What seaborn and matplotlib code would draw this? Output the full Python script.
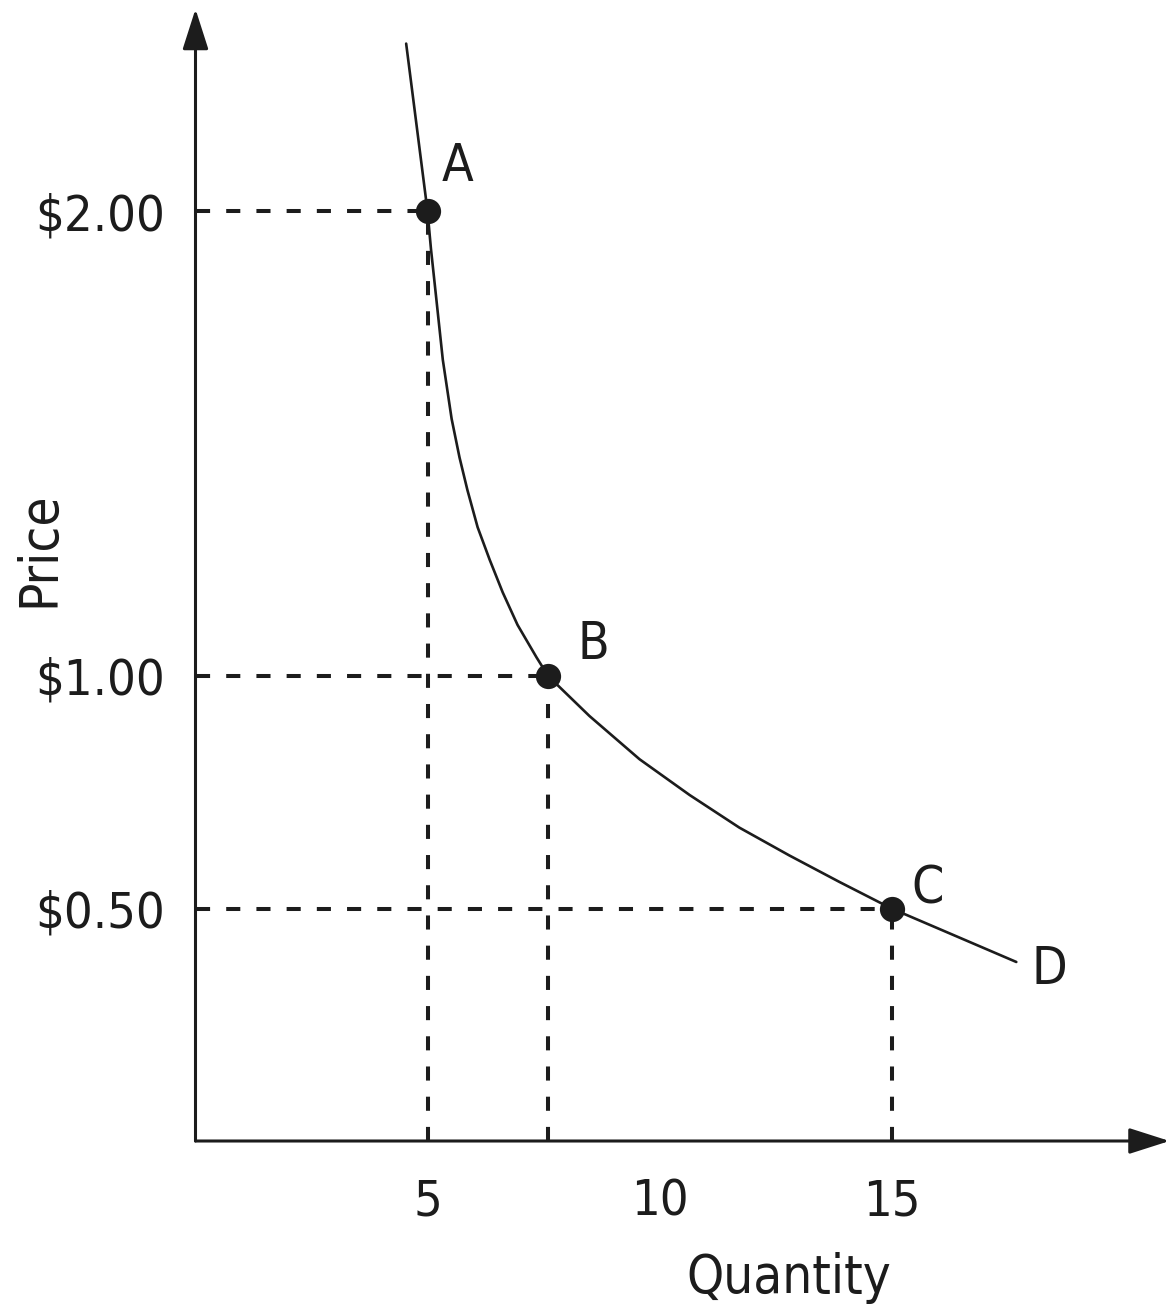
import pandas as pd
import matplotlib.pyplot as plt
import seaborn as sns
from matplotlib import font_manager as fm
from matplotlib.textpath import TextPath

# =========================
# Data
# =========================
demand_qty = [4.54, 5.00, 5.075, 5.19, 5.33, 5.52, 5.69, 5.86, 6.08, 6.34,
              6.62, 6.94, 7.35, 7.60, 8.49, 9.57, 10.65, 11.72, 12.80,
              13.88, 15.00, 16.03, 17.69]
demand_price = [2.36, 2.00, 1.918, 1.811, 1.68, 1.553, 1.47, 1.40, 1.32, 1.25,
                1.18, 1.11, 1.04, 1.00, 0.914, 0.821, 0.744, 0.674, 0.614,
                0.557, 0.50, 0.456, 0.385]

point_names = ['A', 'B', 'C']
point_qty = [5.0, 7.6, 15.0]
point_price = [2.00, 1.00, 0.50]

curve_name = 'D'

price_ticks = [0.50, 1.00, 2.00]
price_labels = ['$0.50', '$1.00', '$2.00']
qty_ticks = [5, 10, 15]
qty_labels = ['5', '10', '15']

# =========================
# Style: look for a narrow sans font, else plain DejaVu
# =========================
sns.set_style('white')

family, stretch = 'DejaVu Sans', 'normal'
for want in ['Liberation Sans Narrow', 'DejaVu Sans', 'Noto Sans', 'Roboto', 'Open Sans']:
    found = [f for f in fm.fontManager.ttflist
             if (f.name == want or f.name.startswith(want + ' '))
             and f.style == 'normal'
             and (f.stretch in ('condensed', 'semi-condensed')
                  or 'Narrow' in f.name or 'Condensed' in f.name)]
    if found:
        family, stretch = found[0].name, found[0].stretch
        break

plt.rcParams['font.family'] = [family, 'DejaVu Sans']
plt.rcParams['font.stretch'] = stretch
ink = '#1c1c1c'

# keep "$2.00" about as wide as in the picture (123 px)
prop = fm.FontProperties(family=[family, 'DejaVu Sans'], stretch=stretch)
w = TextPath((0, 0), '$2.00', size=43, prop=prop).get_extents().width
scale = min(1.0, (123 * 0.72) / w)
tick_fs, label_fs, point_fs = 43 * scale, 45 * scale, 44 * scale

fig = plt.figure(figsize=(11.7, 13.08), dpi=100)
ax = fig.add_axes([195.5 / 1170, (1308 - 1141) / 1308, 974 / 1170, 1132 / 1308])
x_max, y_max = 974 / 46.4, 1132 / 465
ax.set_xlim(0, x_max)
ax.set_ylim(0, y_max)

# =========================
# Demand curve, guide lines, points
# =========================
curve = pd.DataFrame({'qty': demand_qty, 'price': demand_price})
sns.lineplot(data=curve, x='qty', y='price', ax=ax, sort=False,
             estimator=None, color=ink, lw=1.9)

dash = (0, (3.5, 4.0))
ax.hlines(point_price, 0, point_qty, colors=ink, linestyles=dash, lw=2.9)
ax.vlines(point_qty, 0, point_price, colors=ink, linestyles=dash, lw=2.9)

pts = pd.DataFrame({'qty': point_qty, 'price': point_price, 'name': point_names})
sns.scatterplot(data=pts, x='qty', y='price', ax=ax, s=330, color=ink,
                edgecolor=ink, linewidth=0, zorder=5)

label_offsets = {'A': (21.6, 21.5), 'B': (32.4, 12.5), 'C': (25.9, 3.5)}
for name, q, p in zip(point_names, point_qty, point_price):
    ax.annotate(name, (q, p), xytext=label_offsets[name], textcoords='offset points',
                ha='center', va='baseline', fontsize=point_fs, color=ink)
ax.annotate(curve_name, (demand_qty[-1], demand_price[-1]), xytext=(23.8, -15.8),
            textcoords='offset points', ha='center', va='baseline',
            fontsize=point_fs, color=ink)

# =========================
# Axes with arrows
# =========================
for spine in ax.spines.values():
    spine.set_visible(False)

arrow = dict(arrowstyle='-|>,head_length=1.0,head_width=0.32', color=ink,
             lw=2.2, shrinkA=0, shrinkB=0, mutation_scale=25)
ax.annotate('', xy=(x_max, 0), xytext=(0, 0), arrowprops=arrow, annotation_clip=False)
ax.annotate('', xy=(0, y_max), xytext=(0, 0), arrowprops=arrow, annotation_clip=False)

ax.set_xticks(qty_ticks, qty_labels)
ax.set_yticks(price_ticks, price_labels)
ax.tick_params(direction='out', length=14, width=2.2, color=ink,
               labelsize=tick_fs, labelcolor=ink)
ax.tick_params(axis='y', pad=8)
ax.tick_params(axis='x', pad=12)

ax.set_xlabel('Quantity', fontsize=label_fs, color=ink)
ax.set_ylabel('Price', fontsize=label_fs, color=ink)
ax.xaxis.set_label_coords(0.609, -0.098)
ax.yaxis.set_label_coords(-0.134, 0.523)

plt.savefig('out.png', dpi=100)
